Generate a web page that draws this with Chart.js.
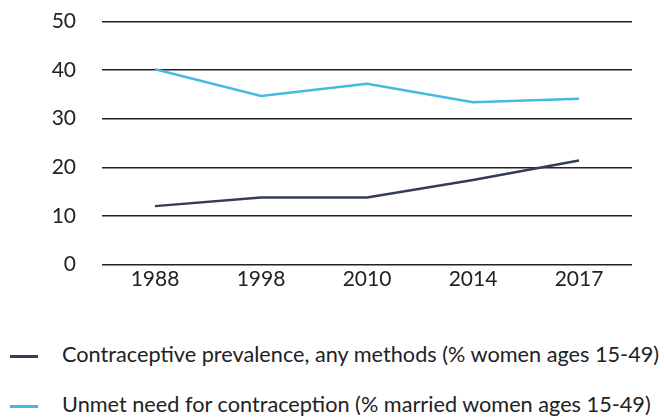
<!DOCTYPE html>
<html>
<head>
<meta charset="utf-8">
<script src="https://cdn.jsdelivr.net/npm/chart.js@4"></script>
<style>
  html, body { margin: 0; padding: 0; background: #fff; overflow: hidden; }
  #wrap { width: 664px; height: 320px; position: absolute; left: 0; top: -17px; }
  #legend { position: absolute; left: 0; top: 339px; width: 664px; font-family: Lato, sans-serif; font-size: 21.7px; color: #222; }
  .item { position: absolute; left: 10px; height: 30px; line-height: 30px; white-space: nowrap; }
  .item .mark { display: inline-block; width: 28px; height: 2.5px; vertical-align: middle; margin-right: 24px; }
</style>
</head>
<body>
<div id="wrap"><canvas id="lineChart"></canvas></div>
<div id="legend"></div>
<script>
// Data
var years = ['1988', '1998', '2010', '2014', '2017'];
var prevalence = [12, 13.8, 13.8, 17.4, 21.4]; // Contraceptive prevalence, any methods
var unmetNeed = [40.2, 34.7, 37.2, 33.4, 34.1]; // Unmet need for contraception
var yTicks = [0, 10, 20, 30, 40, 50];

var ctx = document.getElementById('lineChart').getContext('2d');
var lineChart = new Chart(ctx, {
    type: 'line',
    data: {
        labels: years,
        datasets: [{
            label: 'Contraceptive prevalence, any methods (% women ages 15-49)',
            data: prevalence,
            borderColor: '#343d57',
            backgroundColor: '#343d57',
            borderWidth: 2.5,
            pointRadius: 0,
            tension: 0
        }, {
            label: 'Unmet need for contraception (% married women ages 15-49)',
            data: unmetNeed,
            borderColor: '#45bbe0',
            backgroundColor: '#45bbe0',
            borderWidth: 2.5,
            pointRadius: 0,
            tension: 0
        }]
    },
    options: {
        responsive: true,
        maintainAspectRatio: false,
        animation: false,
        layout: {
            padding: { top: 0, right: 32, left: 0, bottom: 0 }
        },
        plugins: {
            tooltip: { enabled: false },
            legend: { display: false }
        },
        scales: {
            x: {
                offset: true,
                grid: { display: false, drawTicks: false },
                border: { display: false },
                ticks: {
                    color: '#222',
                    padding: 2,
                    font: { family: 'Lato', size: 21 }
                }
            },
            y: {
                min: 0,
                max: 50,
                afterFit: function(scale) {
                    scale.width = 102;
                },
                afterBuildTicks: function(scale) {
                    scale.ticks = yTicks.map(function(v) { return { value: v }; });
                },
                grid: {
                    color: '#222',
                    lineWidth: 1.5,
                    drawTicks: false
                },
                border: { display: false },
                ticks: {
                    color: '#222',
                    padding: 26,
                    font: { family: 'Lato', size: 21 }
                }
            }
        }
    }
});

// Legend drawn as HTML rows under the chart
var legendBox = document.getElementById('legend');
lineChart.data.datasets.forEach(function(ds, i) {
    var row = document.createElement('div');
    row.className = 'item';
    row.style.top = (i * 50) + 'px';
    row.innerHTML = '<span class="mark" style="background:' + ds.borderColor + '"></span>' + ds.label;
    legendBox.appendChild(row);
});
</script>
</body>
</html>
